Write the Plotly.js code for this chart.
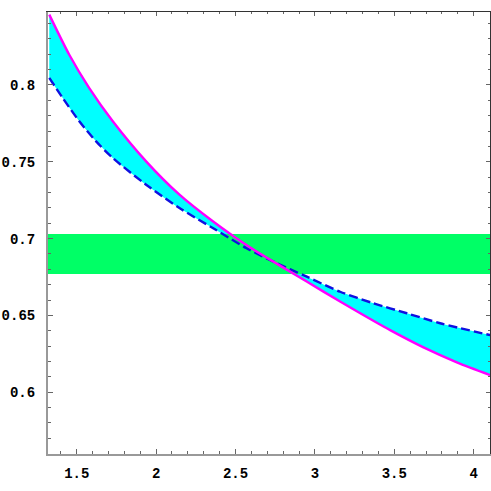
<!DOCTYPE html>
<html>
<head>
<meta charset="utf-8">
<script src="https://cdn.plot.ly/plotly-3.0.1.min.js"></script>
<style>
  html, body { margin: 0; padding: 0; background: #fff; }
  #fig { width: 491px; height: 491px; }
</style>
</head>
<body>
<div id="fig"></div>
<script>
// curve samples
var xUpper = [1.327, 1.453, 1.579, 1.727, 1.937, 2.147, 2.357, 2.588, 2.844, 3.054, 3.264, 3.474, 3.684, 3.894, 4.104];
var upper  = [0.8458, 0.8197, 0.7980, 0.7764, 0.7503, 0.7286, 0.7113, 0.6945, 0.6785, 0.6655, 0.6527, 0.6404, 0.6292, 0.6195, 0.6112];  // magenta, solid
var xLower = [1.327, 1.412, 1.516, 1.622, 1.727, 1.937, 2.147, 2.357, 2.567, 2.739, 2.949, 3.159, 3.369, 3.579, 3.789, 4.104];
var lower  = [0.8046, 0.7915, 0.7764, 0.7633, 0.7525, 0.7351, 0.7199, 0.7069, 0.6939, 0.6850, 0.6752, 0.6654, 0.6579, 0.6514, 0.6449, 0.6372];  // blue, dashed
// horizontal band
var bandX = [1.319, 4.103];
var bandLo = 0.677;
var bandHi = 0.703;

var xRange = [1.319, 4.103];
var yRange = [0.5598, 0.8475];
var xTicks = [1.5, 2, 2.5, 3, 3.5, 4];
var yTicks = [0.6, 0.65, 0.7, 0.75, 0.8];

var tickFont = {family: "Liberation Mono, Courier New, monospace", size: 14, color: "#000", weight: "bold"};

// shaded region between the two curves: two fills against the lower curve
var traces = [
  {x: xLower, y: lower, mode: "lines", line: {width: 0, shape: "spline", smoothing: 0.8}, hoverinfo: "skip", showlegend: false},
  {x: xUpper, y: upper, mode: "lines", line: {width: 0, shape: "spline", smoothing: 0.8}, fill: "tonexty",
   fillcolor: "#00ffff", hoverinfo: "skip", showlegend: false},
  {x: bandX, y: [bandLo, bandLo], mode: "lines", line: {width: 0}, hoverinfo: "skip", showlegend: false},
  {x: bandX, y: [bandHi, bandHi], mode: "lines", line: {width: 0}, fill: "tonexty",
   fillcolor: "#00ff66", hoverinfo: "skip", showlegend: false},
  {x: xLower, y: lower, mode: "lines", line: {color: "#1010e0", width: 2.4, dash: "9px,4px", shape: "spline", smoothing: 0.8}, showlegend: false},
  {x: xUpper, y: upper, mode: "lines", line: {color: "#ff00ff", width: 2.4, shape: "spline", smoothing: 0.8}, showlegend: false}
];

var layout = {
  width: 491, height: 491,
  margin: {l: 48, r: 1, t: 12, b: 37},
  paper_bgcolor: "#fff",
  plot_bgcolor: "#fff",
  showlegend: false,
  xaxis: {
    range: xRange, tickvals: xTicks, ticktext: xTicks.map(String),
    ticks: "inside", ticklen: 5, tickcolor: "#666", tickwidth: 1,
    minor: {dtick: 0.1, ticks: "inside", ticklen: 3, tickcolor: "#666"},
    showgrid: false, zeroline: false, showline: true, linecolor: "#999", linewidth: 2,
    tickfont: tickFont, ticklabelstandoff: 5
  },
  yaxis: {
    range: yRange, tickvals: yTicks, ticktext: yTicks.map(String),
    ticks: "inside", ticklen: 5, tickcolor: "#666", tickwidth: 1,
    minor: {dtick: 0.01, ticks: "inside", ticklen: 3, tickcolor: "#666"},
    showgrid: false, zeroline: false, showline: true, linecolor: "#999", linewidth: 2,
    tickfont: tickFont, ticklabelstandoff: 8
  },
  xaxis2: {
    overlaying: "x", side: "top", matches: "x", range: xRange,
    tickvals: xTicks, showticklabels: false,
    ticks: "inside", ticklen: 4, tickcolor: "#666",
    minor: {dtick: 0.1, ticks: "inside", ticklen: 2, tickcolor: "#666"},
    showgrid: false, zeroline: false, showline: true, linecolor: "#333", linewidth: 1
  },
  yaxis2: {
    overlaying: "y", side: "right", matches: "y", range: yRange,
    tickvals: yTicks, showticklabels: false,
    ticks: "inside", ticklen: 4, tickcolor: "#666",
    minor: {dtick: 0.01, ticks: "inside", ticklen: 2, tickcolor: "#666"},
    showgrid: false, zeroline: false, showline: true, linecolor: "#333", linewidth: 1
  }
};

// invisible trace so the top and right frame axes are drawn
traces.push({x: [xRange[0]], y: [yRange[0]], xaxis: "x2", yaxis: "y2", mode: "markers",
             marker: {opacity: 0}, hoverinfo: "skip", showlegend: false});

Plotly.newPlot("fig", traces, layout, {staticPlot: true});
</script>
</body>
</html>
